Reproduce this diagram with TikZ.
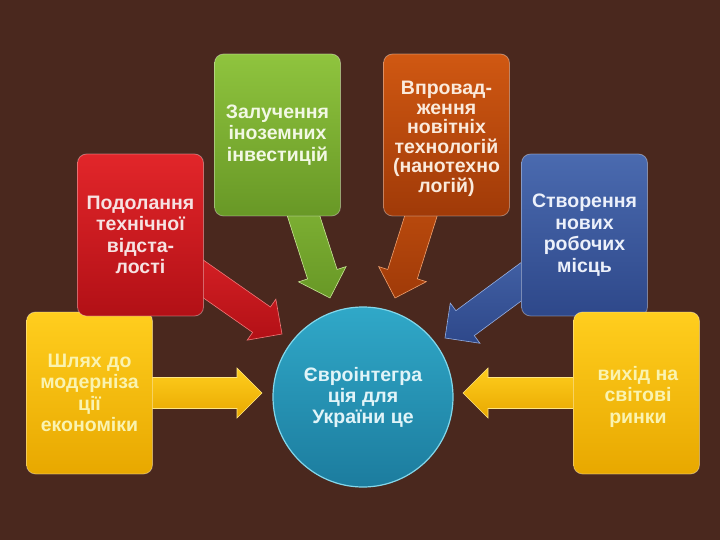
\documentclass[tikz,border=0pt]{standalone}
\usepackage{fontspec}
\setmainfont{Liberation Sans}
\usetikzlibrary{calc,shapes.geometric}
\pgfdeclarelayer{bg}
\pgfdeclarelayer{arrows}
\pgfsetlayers{bg,arrows,main}
\definecolor{bgbrown}{RGB}{74,40,30}
\definecolor{redT}{RGB}{226,38,42}\definecolor{redB}{RGB}{178,16,22}
\definecolor{grnT}{RGB}{143,196,62}\definecolor{grnB}{RGB}{104,152,38}
\definecolor{orgT}{RGB}{208,88,18}\definecolor{orgB}{RGB}{160,58,8}
\definecolor{bluT}{RGB}{74,106,175}\definecolor{bluB}{RGB}{46,72,138}
\definecolor{yelT}{RGB}{255,206,30}\definecolor{yelB}{RGB}{232,168,0}
\definecolor{cirT}{RGB}{48,168,200}\definecolor{cirB}{RGB}{28,124,158}
\definecolor{yelTx}{RGB}{250,243,176}
\newcommand\blockarr[3]{%
  \coordinate (ah) at ($(#3)!25pt!(#2)$);
  \shadedraw[#1] ($(#2)!15.5pt!90:(#3)$) -- ($(ah)!15.5pt!90:(#3)$) -- ($(ah)!25pt!90:(#3)$) -- (#3) -- ($(ah)!25pt!-90:(#3)$) -- ($(ah)!15.5pt!-90:(#3)$) -- ($(#2)!15.5pt!-90:(#3)$) -- cycle;}
\tikzset{
  txt/.style={align=center, inner sep=0pt, font=\bfseries\fontsize{19.5}{21.5}\selectfont},
  box/.style={txt, rectangle, rounded corners=9pt, minimum width=126pt, minimum height=162pt,
    draw=white, draw opacity=0.35, line width=0.8pt},
  hub/.style={circle, minimum size=180pt, inner sep=0pt, align=center,
    font=\bfseries\fontsize{19.5}{21}\selectfont, top color=cirT, bottom color=cirB,
    draw={rgb,255:red,130;green,215;blue,235}, line width=1.2pt, text={rgb,255:red,225;green,244;blue,248}},
  arr/.style={line width=0.6pt, line join=miter},
}
\begin{document}
\begin{tikzpicture}[x=1pt,y=-1pt]
\begin{pgfonlayer}{bg}
\fill[bgbrown] (0,0) rectangle (720,540);
\end{pgfonlayer}
\useasboundingbox (0,0) rectangle (720,540);

\node[box, top color=yelT, bottom color=yelB, text=yelTx] (yl) at (89.5,393) {Шлях до\\модерніза\\ції\\економіки};
\node[box, top color=redT, bottom color=redB, text={rgb,255:red,246;green,226;blue,226}] (rd) at (140.5,235) {Подолання\\технічної\\відста-\\лості};
\node[box, top color=grnT, bottom color=grnB, text={rgb,255:red,242;green,248;blue,228}] (gr) at (277.5,135) {Залучення\\іноземних\\інвестицій};
\node[box, top color=orgT, bottom color=orgB] (or) at (446.5,135) {};
\node[txt, text={rgb,255:red,250;green,234;blue,220}, font=\bfseries\fontsize{19.5}{19.5}\selectfont] (orT) at (446.5,139) {Впровад-\\ження\\новітніх\\технологій\\(нанотехно\\логій)};
\node[box, top color=bluT, bottom color=bluB, text={rgb,255:red,236;green,240;blue,250}] (bl) at (584.5,235) {Створення\\нових\\робочих\\місць};
\node[box, top color=yelT, bottom color=yelB] (yr) at (636.5,393) {};
\node[txt, text=yelTx] (yrT) at (638,396.5) {вихід на\\світові\\ринки};
\node[hub] (hub) at (363,397) {Євроінтегра\\ція для\\України це};

\coordinate (tR) at (282,334);
\coordinate (tG) at (330,298);
\coordinate (tO) at (395,298);
\coordinate (tB) at (445,338);
\coordinate (tYL) at (262,393);
\coordinate (tYR) at (463,393);

\begin{pgfonlayer}{arrows}
\blockarr{arr, top color=redT, bottom color=redB, draw={rgb,255:red,240;green,120;blue,120}}{rd.center}{tR}
\blockarr{arr, top color=grnT, bottom color=grnB, draw={rgb,255:red,200;green,230;blue,150}}{gr.center}{tG}
\blockarr{arr, top color=orgT, bottom color=orgB, draw={rgb,255:red,240;green,160;blue,110}}{or.center}{tO}
\blockarr{arr, top color=bluT, bottom color=bluB, draw={rgb,255:red,150;green,175;blue,225}}{bl.center}{tB}
\blockarr{arr, top color=yelT, bottom color=yelB, draw={rgb,255:red,255;green,230;blue,130}}{yl.center}{tYL}
\blockarr{arr, top color=yelT, bottom color=yelB, draw={rgb,255:red,255;green,230;blue,130}}{yr.center}{tYR}
\end{pgfonlayer}
\end{tikzpicture}
\end{document}
